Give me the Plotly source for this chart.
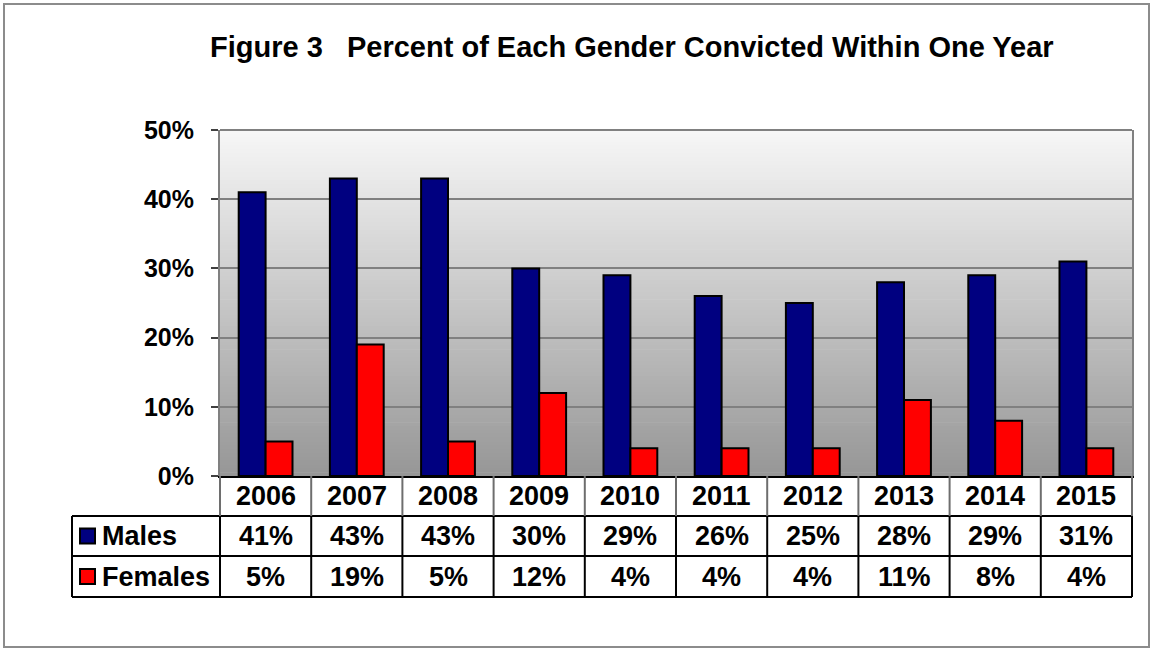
import plotly.graph_objects as go

# ---------------- data ----------------
years = ["2006", "2007", "2008", "2009", "2010", "2011", "2012", "2013", "2014", "2015"]
males = [41, 43, 43, 30, 29, 26, 25, 28, 29, 31]
females = [5, 19, 5, 12, 4, 4, 4, 11, 8, 4]
series_names = ["Males", "Females"]
y_ticks = [0, 10, 20, 30, 40, 50]
y_tick_labels = ["0%", "10%", "20%", "30%", "40%", "50%"]
title_text = "Figure 3   Percent of Each Gender Convicted Within One Year"

# ---------------- style ----------------
W, H = 1151, 649
ML, MR, MT, MB = 220, 19, 130, 173
PW = W - ML - MR
PH = H - MT - MB
FONT = "Liberation Sans, Arial, sans-serif"
C_MALE = "#000080"
C_FEMALE = "#FF0000"
GRID = "#808080"


def px_x(p):
    return (p - ML) / PW


def px_y(p):
    return (H - MB - p) / PH


xs = list(range(len(years)))

fig = go.Figure()
fig.add_trace(go.Bar(x=xs, y=males, name=series_names[0], marker=dict(color=C_MALE, line=dict(color="black", width=2))))
fig.add_trace(go.Bar(x=xs, y=females, name=series_names[1], marker=dict(color=C_FEMALE, line=dict(color="black", width=2))))

shapes = []
# gradient background of plot area
N = 90
top_c = (247, 247, 247)
bot_c = (150, 150, 150)
for i in range(N):
    t = (i + 0.5) / N
    c = tuple(round(top_c[k] + (bot_c[k] - top_c[k]) * t) for k in range(3))
    shapes.append(dict(type="rect", xref="x domain", yref="y domain",
                       x0=0, x1=1, y0=1 - (i + 1) / N - 0.002, y1=1 - i / N,
                       fillcolor="rgb(%d,%d,%d)" % c, line=dict(width=0), layer="below"))

# outer chart border
shapes.append(dict(type="rect", xref="paper", yref="paper",
                   x0=px_x(4), x1=px_x(1149), y0=px_y(647), y1=px_y(4),
                   line=dict(color="#8c8c8c", width=2), fillcolor="rgba(0,0,0,0)"))
# top border of plot area
shapes.append(dict(type="line", xref="x domain", yref="y domain", x0=0, x1=1, y0=1, y1=1,
                   line=dict(color=GRID, width=2)))

# table geometry (pixel rows)
row_edges = [476, 516, 556, 597]
y_edges = [px_y(r) for r in row_edges]
left_col = px_x(72)

# horizontal table lines
for r in (1, 2, 3):
    shapes.append(dict(type="line", xref="paper", yref="paper", x0=left_col, x1=1, y0=y_edges[r], y1=y_edges[r],
                       line=dict(color="black", width=2)))
# left edge of table label column
shapes.append(dict(type="line", xref="paper", yref="paper", x0=left_col, x1=left_col, y0=y_edges[3], y1=y_edges[1],
                   line=dict(color="black", width=2)))
# vertical column lines
for i in range(len(years) + 1):
    xd = i / len(years)
    shapes.append(dict(type="line", xref="x domain", yref="paper", x0=xd, x1=xd, y0=y_edges[0], y1=y_edges[1],
                       line=dict(color="#6e6e6e", width=2)))
    shapes.append(dict(type="line", xref="x domain", yref="paper", x0=xd, x1=xd, y0=y_edges[1], y1=y_edges[3],
                       line=dict(color="black", width=2)))

annotations = []
TF = dict(family=FONT, size=27, color="black")
mid = [(y_edges[k] + y_edges[k + 1]) / 2 for k in range(3)]
for i, yr in enumerate(years):
    annotations.append(dict(x=xs[i], y=mid[0], xref="x", yref="paper", text="<b>%s</b>" % yr,
                            showarrow=False, font=TF, xanchor="center", yanchor="middle"))
    annotations.append(dict(x=xs[i], y=mid[1], xref="x", yref="paper", text="<b>%d%%</b>" % males[i],
                            showarrow=False, font=TF, xanchor="center", yanchor="middle"))
    annotations.append(dict(x=xs[i], y=mid[2], xref="x", yref="paper", text="<b>%d%%</b>" % females[i],
                            showarrow=False, font=TF, xanchor="center", yanchor="middle"))

# legend keys and series names in table
for k, (nm, col) in enumerate(zip(series_names, [C_MALE, C_FEMALE])):
    ym = mid[k + 1]
    hh = 7.5 / PH
    shapes.append(dict(type="rect", xref="paper", yref="paper", x0=px_x(80), x1=px_x(95),
                       y0=ym - hh, y1=ym + hh, fillcolor=col, line=dict(color="black", width=2)))
    annotations.append(dict(x=px_x(100), y=ym, xref="paper", yref="paper", text="<b>%s</b>" % nm,
                            showarrow=False, font=TF, xanchor="left", yanchor="middle"))

# title
annotations.append(dict(x=px_x(632), y=px_y(47), xref="paper", yref="paper", text="<b>%s</b>" % title_text,
                        showarrow=False, font=dict(family=FONT, size=29, color="black"),
                        xanchor="center", yanchor="middle"))

fig.update_layout(
    width=W, height=H,
    margin=dict(l=ML, r=MR, t=MT, b=MB, pad=0),
    paper_bgcolor="white",
    plot_bgcolor="white",
    showlegend=False,
    barmode="group",
    bargap=0.41,
    bargroupgap=0,
    shapes=shapes,
    annotations=annotations,
    font=dict(family=FONT),
)
fig.update_xaxes(range=[-0.5, len(years) - 0.5], showticklabels=False, ticks="",
                 showgrid=False, zeroline=False, showline=True, linecolor="black", linewidth=2)
fig.update_yaxes(range=[0, 50], tickmode="array", tickvals=y_ticks, ticktext=["<b>%s</b>" % t for t in y_tick_labels],
                 showgrid=True, gridcolor=GRID, gridwidth=2,
                 zeroline=False, showline=True, linecolor=GRID, linewidth=2, mirror=True,
                 ticks="outside", ticklen=7, tickwidth=2, tickcolor="#404040",
                 tickfont=dict(family=FONT, size=25, color="black"), ticklabelstandoff=12)

fig.write_html("out.html", config={"displayModeBar": False},
               post_script="document.body.style.margin='0';document.body.style.overflow='hidden';")
